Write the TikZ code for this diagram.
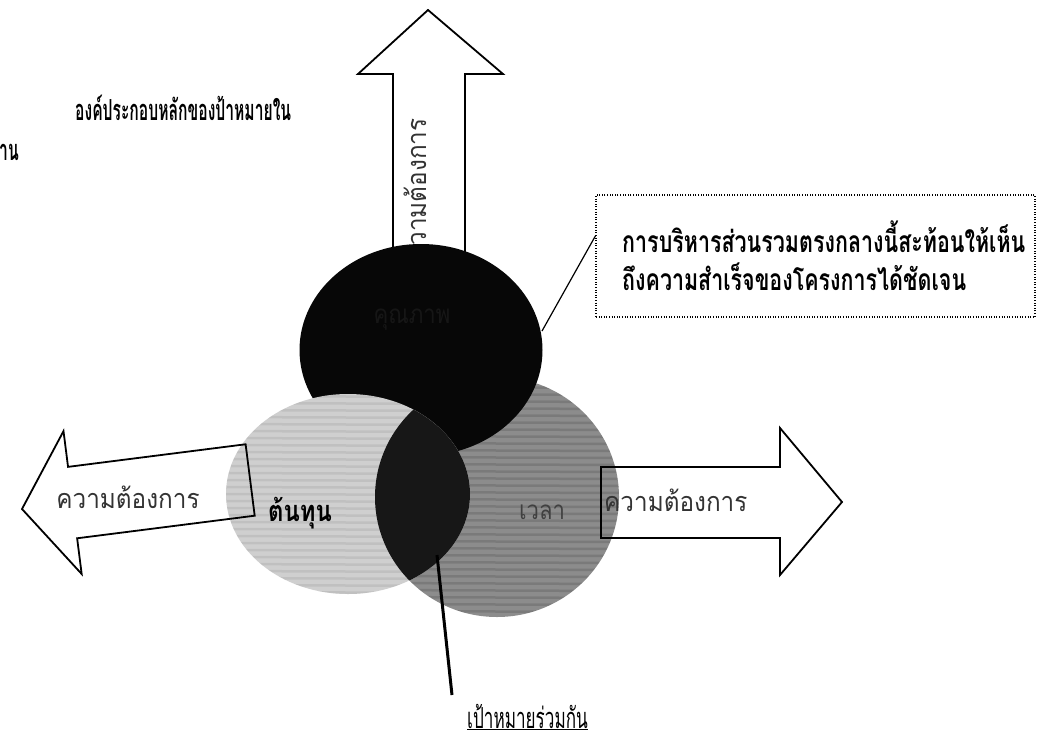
\documentclass[tikz,border=0pt]{standalone}
\usepackage{fontspec}
\newfontfamily\thai[Script=Thai]{Loma}
\usetikzlibrary{shapes.geometric}
\definecolor{lightc}{HTML}{CFCFCF}
\definecolor{grayc}{HTML}{8C8C8C}
\definecolor{blackc}{HTML}{070707}
\definecolor{lensc}{HTML}{171717}
\newcommand\tfont[2]{\thai\fontsize{#1}{#1}\selectfont\addfontfeatures{FakeStretch=#2}}
\tikzset{
  arrowshape/.style={draw=black, line width=1.8pt, line join=miter},
  arrowlbl/.style={font=\tfont{27}{0.9}, inner sep=0pt, text=black!80},
  titlelbl/.style={font=\bfseries\tfont{29}{0.54}, inner sep=0pt},
  calloutlbl/.style={font=\bfseries\tfont{30}{0.715}, inner sep=0pt},
  circ/.style={ellipse, inner sep=0pt, draw=none},
}
\begin{document}
\begin{tikzpicture}[x=1pt,y=-1pt]
\useasboundingbox (0,0) rectangle (1044,747);
\fill[white] (0,0) rectangle (1044,747);

% title text (cut at left)
\node[titlelbl, anchor=west] (title) at (75,108) {องค์ประกอบหลักของป้าหมายใน};
\node[titlelbl, anchor=west] (title2) at (-1,152) {าน};

% top arrow
\draw[arrowshape, fill=white] (393,285) -- (393,74) -- (358,74) -- (428,10) -- (503,74) -- (465,74) -- (465,285);
\node[arrowlbl, rotate=90] (upl) at (415,190) {ความต้องการ};

% left / right arrow fills
\begin{scope}[shift={(22,509)}, rotate=7.25]
  \fill[white] (0,0) -- (51,-72) -- (51,-36) -- (230,-36) -- (230,36) -- (51,36) -- (51,72) -- cycle;
\end{scope}
\fill[white] (601,467) -- (780,467) -- (780,428) -- (842,502) -- (780,575) -- (780,538) -- (601,538) -- cycle;

% circles
\node[circ, fill=grayc, minimum width=244pt, minimum height=240pt] (time) at (497,497) {};
\begin{scope}
  \clip (497,497) ellipse [x radius=122, y radius=120];
  \foreach \yy in {380,387,...,620} {\draw[black, opacity=0.12, line width=2.5pt] (370,\yy) -- (625,\yy+1);}
\end{scope}
\node[circ, fill=blackc, minimum width=243pt, minimum height=212pt] (quality) at (421,350) {};
\node[circ, fill=lightc, minimum width=244pt, minimum height=200pt] (cost) at (348,494) {};
\begin{scope}
  \clip (348,494) ellipse [x radius=122, y radius=100];
  \foreach \yy in {396,403,...,594} {\draw[gray, opacity=0.18, line width=2.5pt] (220,\yy) -- (475,\yy+1);}
\end{scope}
\begin{scope}
  \clip (348,494) ellipse [x radius=122, y radius=100];
  \fill[lensc] (497,497) ellipse [x radius=122, y radius=120];
\end{scope}

% left / right arrow outlines on top
\begin{scope}[shift={(22,509)}, rotate=7.25]
  \draw[arrowshape] (0,0) -- (51,-72) -- (51,-36) -- (230,-36) -- (230,36) -- (51,36) -- (51,72) -- cycle;
\end{scope}
\draw[arrowshape] (601,467) -- (780,467) -- (780,428) -- (842,502) -- (780,575) -- (780,538) -- (601,538) -- cycle;
\node[arrowlbl] (leftl) at (128,497) {ความต้องการ};
\node[arrowlbl, anchor=west] (rightl) at (604,500) {ความต้องการ};

% circle labels
\node[font=\bfseries\tfont{29}{0.82}, inner sep=0pt] (costl) at (300,513) {ต้นทุน};
\node[font=\tfont{26}{0.85}, inner sep=0pt, text=black!75] (timel) at (542,512) {เวลา};
\node[font=\tfont{26}{0.85}, inner sep=0pt, text=black!85!white, opacity=0.5] (qualityl) at (412,320) {คุณภาพ};

% callout
\node[draw=black, line width=1.3pt, dash pattern=on 1pt off 1.6pt, minimum width=439pt, minimum height=122pt, inner sep=0pt] (callout) at (815.5,256) {};
\node[calloutlbl, anchor=west] (c1) at (622,237) {การบริหารส่วนรวมตรงกลางนี้สะท้อนให้เห็น};
\node[calloutlbl, anchor=west] (c2) at (622,277) {ถึงความสำเร็จของโครงการได้ชัดเจน};
\coordinate (qedge) at (542,331);
\draw[line width=1.2pt] ([yshift=20pt]callout.west) -- (qedge);

% common goal
\coordinate (lensp) at (437,555);
\node[font=\tfont{29}{0.59}, inner sep=0pt, anchor=west] (goal) at (467,717) {\underline{เป้าหมายร่วมกัน}};
\coordinate (goalend) at (452,695);
\draw[line width=3pt] (lensp) -- (goalend);
\end{tikzpicture}
\end{document}
